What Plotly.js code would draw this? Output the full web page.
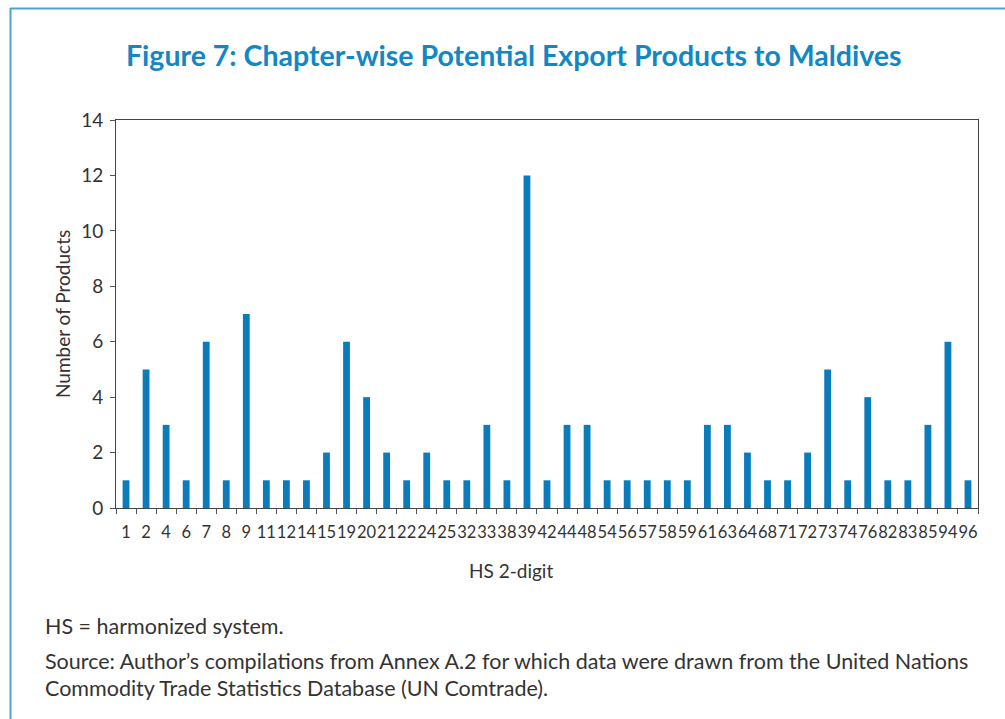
<!DOCTYPE html>
<html>
<head>
<meta charset="utf-8">
<script src="https://cdn.plot.ly/plotly-3.0.1.min.js"></script>
<style>
  html, body { margin: 0; padding: 0; background: #ffffff; }
  #chart { width: 1005px; height: 719px; }
</style>
</head>
<body>
<div id="chart"></div>
<script>
const hsCodes = ["1","2","4","6","7","8","9","11","12","14","15","19","20","21","22","24","25","32","33","38","39","42","44","48","54","56","57","58","59","61","63","64","68","71","72","73","74","76","82","83","85","94","96"];
const productCounts = [1,5,3,1,6,1,7,1,1,1,2,6,4,2,1,2,1,1,3,1,12,1,3,3,1,1,1,1,1,3,3,2,1,1,2,5,1,4,1,1,3,6,1];
const yTicks = [0,2,4,6,8,10,12,14];

const chartTitle = "Figure 7: Chapter-wise Potential Export Products to Maldives";
const xTitle = "HS 2-digit";
const yTitle = "Number of Products";
const note1 = "HS = harmonized system.";
const note2 = "Source: Author’s compilations from Annex A.2 for which data were drawn from the United Nations";
const note3 = "Commodity Trade Statistics Database (UN Comtrade).";

const W = 1005, H = 719;
const L = 116, R = 27, T = 120, B = 211;
const pw = W - L - R, ph = H - T - B;
const px = x => (x - L) / pw;
const py = y => (H - B - y) / ph;

const font = "Lato, 'Open Sans', sans-serif";
const frameColor = "#4aa3d3";

const trace = {
  type: "bar",
  x: hsCodes,
  y: productCounts,
  marker: { color: "#0a7cbc", line: { width: 0 } },
  hoverinfo: "x+y"
};

const layout = {
  width: W, height: H,
  margin: { l: L, r: R, t: T, b: B, pad: 0 },
  paper_bgcolor: "#ffffff",
  plot_bgcolor: "#ffffff",
  showlegend: false,
  bargap: 0.66,
  font: { family: font, color: "#333333", size: 16 },
  xaxis: {
    type: "category",
    tickson: "boundaries",
    ticks: "outside",
    ticklen: 5,
    tickcolor: "#555555",
    showline: true,
    linecolor: "#444444",
    linewidth: 1,
    mirror: true,
    showgrid: false,
    zeroline: false,
    tickangle: 0,
    ticklabelstandoff: 9,
    tickfont: { family: font, size: 16.5, color: "#333333" },
    automargin: false
  },
  yaxis: {
    range: [0, 14],
    tickvals: yTicks,
    ticks: "outside",
    ticklen: 5,
    tickcolor: "#555555",
    showline: true,
    linecolor: "#444444",
    linewidth: 1,
    mirror: true,
    showgrid: false,
    zeroline: false,
    ticklabelstandoff: 3,
    tickfont: { family: font, size: 19, color: "#333333" },
    automargin: false
  },
  annotations: [
    { text: "<b>" + chartTitle + "</b>", xref: "paper", yref: "paper",
      x: px(514), y: py(55), xanchor: "center", yanchor: "middle", showarrow: false,
      font: { family: font, size: 28.5, color: "#1287c4" } },
    { text: xTitle, xref: "paper", yref: "paper",
      x: px(511), y: py(570), xanchor: "center", yanchor: "middle", showarrow: false,
      font: { family: font, size: 19, color: "#333333" } },
    { text: yTitle, xref: "paper", yref: "paper", textangle: -90,
      x: px(62), y: py(314), xanchor: "center", yanchor: "middle", showarrow: false,
      font: { family: font, size: 19, color: "#333333" } },
    { text: note1, xref: "paper", yref: "paper",
      x: px(43), y: py(626), xanchor: "left", yanchor: "middle", showarrow: false,
      font: { family: font, size: 21.5, color: "#333333" } },
    { text: note2, xref: "paper", yref: "paper",
      x: px(43), y: py(661), xanchor: "left", yanchor: "middle", showarrow: false,
      font: { family: font, size: 21.5, color: "#333333" } },
    { text: note3, xref: "paper", yref: "paper",
      x: px(43), y: py(688), xanchor: "left", yanchor: "middle", showarrow: false,
      font: { family: font, size: 21.5, color: "#333333" } }
  ],
  shapes: [
    { type: "line", xref: "paper", yref: "paper", x0: px(10.5), x1: px(10.5), y0: py(8), y1: py(719),
      line: { color: frameColor, width: 2 } },
    { type: "line", xref: "paper", yref: "paper", x0: px(10), x1: px(1005), y0: py(8.5), y1: py(8.5),
      line: { color: frameColor, width: 2 } }
  ]
};

Plotly.newPlot("chart", [trace], layout, { displayModeBar: false, staticPlot: true });
</script>
</body>
</html>
